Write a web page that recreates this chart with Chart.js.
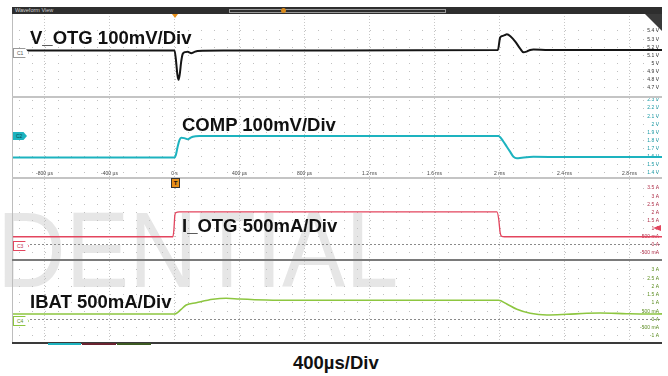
<!DOCTYPE html>
<html>
<head>
<meta charset="utf-8">
<script src="https://cdn.jsdelivr.net/npm/chart.js@4.4.1/dist/chart.umd.min.js"></script>
<style>
  body { margin: 0; width: 668px; height: 376px; background: #fff; position: relative; overflow: hidden;
         font-family: "Liberation Sans", Arial, sans-serif; }
  .abs { position: absolute; }
  canvas { position: absolute; left: 12px; }
  #wm { left: -3px; top: 196px; font-size: 108px; line-height: 108px; color: #e6e6e6; white-space: nowrap;
        transform: scaleX(0.88); transform-origin: 0 0; }
  .lbl { position: absolute; font-weight: bold; font-size: 18.5px; line-height: 18.5px; color: #111; white-space: nowrap; }
  .sep { position: absolute; left: 12px; width: 650px; }
  .tag { position: absolute; left: 13px; width: 14px; height: 8px; font-size: 5px; line-height: 8px; text-indent: 3px;
         clip-path: polygon(0 0, 75% 0, 100% 50%, 75% 100%, 0 100%); }
</style>
</head>
<body>
<div id="wm" class="abs">DENTIAL</div>

<canvas id="c1" width="650" height="84" style="top:13px"></canvas>
<canvas id="c2" width="650" height="79" style="top:98px"></canvas>
<canvas id="c3" width="650" height="81" style="top:179px"></canvas>
<canvas id="c4" width="650" height="81" style="top:261px"></canvas>

<!-- frame -->
<div class="abs" style="left:12px;top:7px;width:650px;height:7px;background:#2e2e2e"></div>
<div class="abs" style="left:15px;top:7px;font-size:5.5px;line-height:7px;color:#cfcfcf">Waveform View</div>
<div class="abs" style="left:229px;top:9px;width:215px;height:2px;border:1px solid #9a9a9a"></div>
<div class="abs" style="left:281px;top:8px;width:5px;height:5px;border-radius:3px;background:#d98a1a"></div>
<div class="abs" style="left:12px;top:14px;width:1px;height:329px;background:#bdbdbd"></div>
<div class="sep" style="top:96px;height:2px;background:#c4c4c4"></div>
<div class="sep" style="top:177px;height:2px;background:#c4c4c4"></div>
<div class="sep" style="top:259px;height:2px;background:#7a7a7a"></div>
<div class="sep" style="top:342px;height:2px;background:#3a3a3a"></div>
<div class="abs" style="left:48px;top:343px;width:33px;height:2px;background:#1db3bf"></div>
<div class="abs" style="left:82px;top:343px;width:34px;height:2px;background:#6a2330"></div>
<div class="abs" style="left:117px;top:343px;width:34px;height:2px;background:#3d5a22"></div>

<!-- markers -->
<div class="abs" style="left:172px;top:14px;width:0;height:0;border-left:3px solid transparent;border-right:3px solid transparent;border-top:4px solid #e8901a"></div>
<div class="abs" style="left:171px;top:178px;width:7px;height:8px;background:#e8901a;border:1px solid #333;font-size:6px;line-height:8px;font-weight:bold;text-align:center;color:#111">T</div>
<div class="abs" style="left:645px;top:14px;width:17px;height:17px;background:#3a3a3a;clip-path:polygon(0 0,100% 0,100% 100%)"></div>
<div class="abs" style="left:653px;top:225px;width:8px;height:6px;background:#e3455e;clip-path:polygon(0 50%,100% 0,100% 100%)"></div>

<div class="tag" style="top:48px;background:#fff;border:1px solid #999;color:#555">C1</div>
<div class="tag" style="top:132px;background:#1db3bf;color:#0b4a50">C2</div>
<div class="tag" style="top:241px;background:#fff;border:1px solid #e3455e;color:#c0304a">C3</div>
<div class="tag" style="top:316px;background:#fff;border:1px solid #8dc640;color:#5d8f22">C4</div>

<div class="lbl" style="left:30px;top:28.5px">V_OTG 100mV/Div</div>
<div class="lbl" style="left:182px;top:115.7px">COMP 100mV/Div</div>
<div class="lbl" style="left:182px;top:216.5px">I_OTG 500mA/Div</div>
<div class="lbl" style="left:30px;top:292.7px">IBAT 500mA/Div</div>
<div class="lbl" style="left:293px;top:354.3px">400µs/Div</div>

<script>
// time axis, µs
const timeTicks = [-800, -400, 0, 400, 800, 1200, 1600, 2000, 2400, 2800];
const timeLabels = ['-800 µs', '-400 µs', '0 s', '400 µs', '800 µs', '1.2 ms', '1.6 ms', '2 ms', '2.4 ms', '2.8 ms'];

// C1 V_OTG (V)
const tVotg = [-1000, -500, 0, 8, 18, 25, 33, 41, 51, 65, 82, 92, 103, 120, 142, 300, 1000, 1990, 2004, 2020, 2035, 2045, 2070, 2097, 2125, 2148, 2170, 2189, 2209, 2300, 3000];
const vVotg = [5.16, 5.16, 5.16, 5.06, 4.86, 4.80, 4.88, 5.02, 5.12, 5.14, 5.146, 5.135, 5.128, 5.14, 5.155, 5.16, 5.16, 5.165, 5.32, 5.34, 5.351, 5.359, 5.33, 5.27, 5.19, 5.138, 5.15, 5.167, 5.172, 5.165, 5.165];
const votgTicks = [5.4, 5.3, 5.2, 5.1, 5.0, 4.9, 4.8, 4.7];
const votgLabels = ['5.4 V', '5.3 V', '5.2 V', '5.1 V', '5 V', '4.9 V', '4.8 V', '4.7 V'];

// C2 COMP (V)
const tComp = [-1000, 0, 8, 20, 31, 41, 60, 82, 100, 113, 154, 300, 1994, 2020, 2045, 2066, 2086, 2107, 2138, 2209, 2400, 3000];
const vComp = [1.59, 1.59, 1.62, 1.73, 1.807, 1.835, 1.83, 1.815, 1.835, 1.847, 1.855, 1.856, 1.856, 1.80, 1.724, 1.66, 1.60, 1.581, 1.589, 1.60, 1.597, 1.597];
const compTicks = [2.3, 2.2, 2.1, 2.0, 1.9, 1.8, 1.7, 1.6, 1.5, 1.4];
const compLabels = ['2.3 V', '2.2 V', '2.1 V', '2 V', '1.9 V', '1.8 V', '1.7 V', '1.6 V', '1.5 V', '1.4 V'];

// C3 I_OTG (A)
const tIotg = [-1000, -10, -4, 2, 8, 30, 1000, 1984, 1995, 2004, 2014, 2030, 3000];
const vIotg = [0.5, 0.5, 0.9, 1.8, 1.98, 2.03, 2.03, 2.03, 1.6, 0.75, 0.52, 0.5, 0.5];
const iotgTicks = [3.5, 3, 2.5, 2, 1.5, 1, 0.5, 0, -0.5];
const iotgLabels = ['3.5 A', '3 A', '2.5 A', '2 A', '1.5 A', '1 A', '500 mA', '0 A', '-500 mA'];

// C4 IBAT (A)
const tIbat = [-1000, 0, 10, 41, 72, 134, 236, 318, 400, 564, 769, 1994, 2045, 2107, 2189, 2292, 2414, 2537, 2619, 2783, 2906, 3000];
const vIbat = [0.33, 0.33, 0.36, 0.618, 0.879, 1.018, 1.224, 1.285, 1.242, 1.182, 1.164, 1.164, 0.939, 0.618, 0.376, 0.273, 0.315, 0.376, 0.394, 0.352, 0.333, 0.34];
const ibatTicks = [3, 2.5, 2, 1.5, 1, 0.5, 0, -0.5, -1];
const ibatLabels = ['3 A', '2.5 A', '2 A', '1.5 A', '1 A', '500 mA', '0 A', '-500 mA', '-1 A'];

function makePanel(id, times, values, color, width, yMin, yMax, yTicks, yLabels, tickColor, zeroLine, xAxisAt) {
  const ctx = document.getElementById(id).getContext('2d');
  return new Chart(ctx, {
    type: 'line',
    data: {
      datasets: [{
        data: times.map((t, i) => ({ x: t, y: values[i] })),
        borderColor: color,
        borderWidth: width,
        pointRadius: 0,
        cubicInterpolationMode: 'monotone',
        fill: false
      }]
    },
    options: {
      responsive: false,
      animation: false,
      events: [],
      layout: { padding: 0 },
      plugins: { legend: { display: false }, tooltip: { enabled: false } },
      scales: {
        x: {
          type: 'linear', min: -1000, max: 3000,
          position: xAxisAt !== undefined ? { y: xAxisAt } : 'bottom',
          afterBuildTicks: s => { s.ticks = timeTicks.map(v => ({ value: v })); },
          afterFit: s => { s.paddingLeft = 0; s.paddingRight = 0; s.paddingTop = 0; s.paddingBottom = 0; if (xAxisAt === undefined) s.height = 0; },
          ticks: {
            display: xAxisAt !== undefined, padding: 0, maxRotation: 0, autoSkip: false,
            font: { size: 5, family: 'Liberation Sans' }, color: '#444',
            callback: (v, i) => timeLabels[i]
          },
          grid: { color: '#c8c8c8', lineWidth: 1, drawTicks: false },
          border: { display: false, dash: [1, 2] }
        },
        y: {
          type: 'linear', position: 'right', min: yMin, max: yMax,
          afterBuildTicks: s => { s.ticks = yTicks.map(v => ({ value: v })); },
          afterFit: s => { s.width = 0; s.paddingTop = 0; s.paddingBottom = 0; },
          ticks: {
            mirror: true, padding: -3, autoSkip: false,
            font: { size: 5, family: 'Liberation Sans' }, color: tickColor,
            callback: (v, i) => yLabels[i]
          },
          grid: {
            color: c => (zeroLine && c.tick && c.tick.value === 0) ? '#8a8a8a' : '#c0c0c0',
            lineWidth: 1, drawTicks: false
          },
          border: {
            display: false,
            dash: c => (zeroLine && c.tick && c.tick.value === 0) ? [2, 2] : [1, 12],
            dashOffset: 6
          }
        }
      }
    }
  });
}

makePanel('c1', tVotg, vVotg, '#151515', 2, 4.589, 5.621, votgTicks, votgLabels, '#333', false);
makePanel('c2', tComp, vComp, '#1db3bf', 2, 1.3506, 2.3247, compTicks, compLabels, '#1a9aa5', false, 1.4246);
makePanel('c3', tIotg, vIotg, '#e3455e', 1.3, -0.931, 4.054, iotgTicks, iotgLabels, '#b0304a', true);
makePanel('c4', tIbat, vIbat, '#8dc640', 1.6, -1.364, 3.545, ibatTicks, ibatLabels, '#5d8f22', true);
</script>
</body>
</html>
